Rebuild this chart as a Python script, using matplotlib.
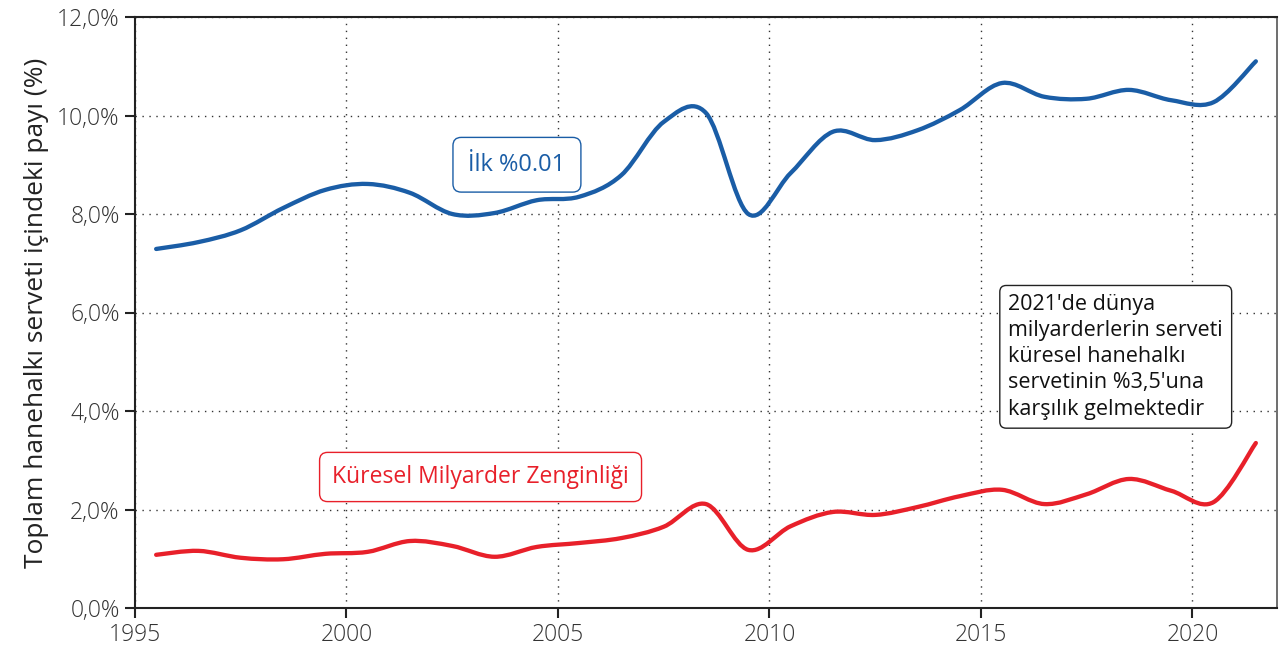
import numpy as np
import matplotlib
matplotlib.use("Agg")
import matplotlib.pyplot as plt
from matplotlib.path import Path
from matplotlib.patches import PathPatch

plt.rcParams['font.family'] = ['Open Sans', 'DejaVu Sans']

years = [1995, 1996, 1997, 1998, 1999, 2000, 2001, 2002, 2003, 2004, 2005, 2006, 2007,
         2008, 2009, 2010, 2011, 2012, 2013, 2014, 2015, 2016, 2017, 2018, 2019, 2020, 2021]
top001 = [7.29, 7.43, 7.67, 8.12, 8.49, 8.61, 8.43, 8.00, 8.02, 8.28, 8.35, 8.79, 9.87,
          10.05, 8.00, 8.83, 9.67, 9.50, 9.70, 10.11, 10.66, 10.38, 10.34, 10.52, 10.31, 10.27, 11.10]
billionaires = [1.08, 1.16, 1.02, 0.99, 1.10, 1.14, 1.36, 1.26, 1.04, 1.24, 1.32, 1.42, 1.65,
                2.11, 1.18, 1.66, 1.95, 1.89, 2.05, 2.27, 2.40, 2.11, 2.31, 2.62, 2.38, 2.15, 3.35]
yticks = [0, 2, 4, 6, 8, 10, 12]
ytick_labels = ["0,0%", "2,0%", "4,0%", "6,0%", "8,0%", "10,0%", "12,0%"]
xticks = [1995, 2000, 2005, 2010, 2015, 2020]

BLUE = "#1a5da6"
RED = "#e8202a"


def smooth_path(x, y, t=0.5):
    x = np.asarray(x, float)
    y = np.asarray(y, float)
    n = len(x)
    verts = [(x[0], y[0])]
    codes = [Path.MOVETO]
    for i in range(n - 1):
        x0, y0 = (x[i - 1], y[i - 1]) if i > 0 else (x[i], y[i])
        x1, y1 = x[i], y[i]
        x2, y2 = x[i + 1], y[i + 1]
        x3, y3 = (x[i + 2], y[i + 2]) if i + 2 < n else (x2, y2)
        c1 = (x1 + (x2 - x0) * t / 3, y1 + (y2 - y0) * t / 3)
        c2 = (x2 - (x3 - x1) * t / 3, y2 - (y3 - y1) * t / 3)
        verts += [c1, c2, (x2, y2)]
        codes += [Path.CURVE4] * 3
    return Path(verts, codes)


fig = plt.figure(figsize=(12.79, 6.53), dpi=100)
ax = fig.add_axes([135 / 1279, 1 - 608 / 653, (1277 - 135) / 1279, (608 - 17) / 653])

xs = np.array(years) + 0.5
for vals, col in [(top001, BLUE), (billionaires, RED)]:
    p = PathPatch(smooth_path(xs, vals, t=0.5), facecolor="none", edgecolor=col,
                  lw=3.1, capstyle="round", joinstyle="round", zorder=3)
    ax.add_patch(p)

ax.set_xlim(1995, 2022)
ax.set_ylim(0, 12)
ax.set_yticks(yticks)
ax.set_yticklabels(ytick_labels)
ax.set_xticks(xticks)
ax.grid(True, linestyle=(0, (1, 4)), color="#333333", lw=1.0)
ax.set_axisbelow(True)

for s in ["left", "bottom", "top"]:
    ax.spines[s].set_color("#222222")
    ax.spines[s].set_linewidth(1.5)
ax.spines["right"].set_color("#555555")
ax.spines["right"].set_linewidth(1.2)
ax.tick_params(axis="both", direction="out", length=7, width=1.5, color="#222222",
               labelsize=16.5, labelcolor="#333333", pad=4)
for lab in ax.get_xticklabels() + ax.get_yticklabels():
    lab.set_fontweight("light")

ax.set_ylabel("Toplam hanehalkı serveti içindeki payı (%)", fontsize=19, color="#222222",
              labelpad=6)

ax.text(2004.03, 9.0, "İlk %0.01", color=BLUE, fontsize=17, ha="center", va="center",
        bbox=dict(boxstyle="round,pad=0.65,rounding_size=0.35", fc="white", ec=BLUE, lw=1.0))
ax.text(2003.17, 2.66, "Küresel Milyarder Zenginliği", color=RED, fontsize=16.5, ha="center", va="center",
        bbox=dict(boxstyle="round,pad=0.55,rounding_size=0.35", fc="white", ec=RED, lw=1.0))
ax.text(2015.65, 5.1, "2021'de dünya\nmilyarderlerin serveti\nküresel hanehalkı\nservetinin %3,5'una\nkarşılık gelmektedir",
        color="#111111", fontsize=15.5, ha="left", va="center", linespacing=1.32,
        bbox=dict(boxstyle="round,pad=0.4,rounding_size=0.3", fc="white", ec="#222222", lw=1.0))

fig.savefig("out.png", dpi=100)
